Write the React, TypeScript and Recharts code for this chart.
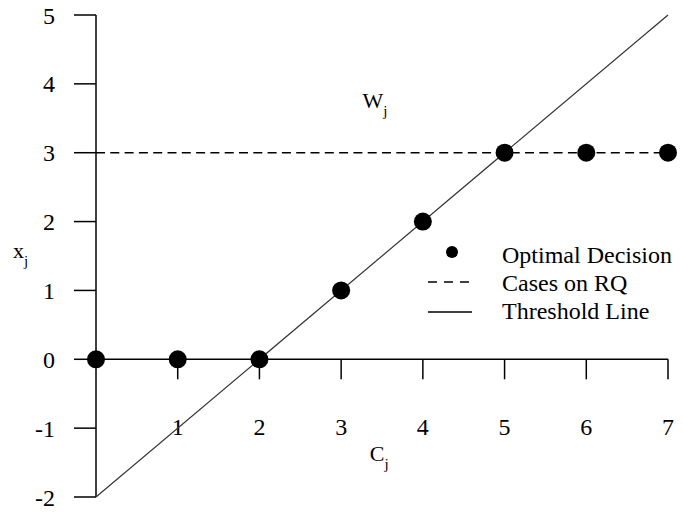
import React from 'react';
import {
  ComposedChart,
  XAxis,
  YAxis,
  Scatter,
  ReferenceLine,
  ReferenceDot,
  Label,
} from 'recharts';

// ---- data ----
const decisionX = [0, 1, 2, 3, 4, 5, 6, 7];
const decisionY = [0, 0, 0, 1, 2, 3, 3, 3];
const casesX = [0, 7];
const casesY = [3, 3];
const thresholdX = [0, 7];
const thresholdY = [-2, 5];
const yTicks = [-2, -1, 0, 1, 2, 3, 4, 5];
const xTicks = [1, 2, 3, 4, 5, 6, 7];
const xTickLabels = ['1', '2', '3', '4', '5', '6', '7'];
const legendLabels = ['Optimal Decision', 'Cases on RQ', 'Threshold Line'];
const annotations = [
  { x: 3.26, y: 3.645, main: 'W', sub: 'j' },
  { x: 3.35, y: -1.47, main: 'C', sub: 'j' },
];

const decisionData = decisionX.map((x, i) => ({ x, y: decisionY[i] }));
const casesData = casesX.map((x, i) => ({ x, y: casesY[i] }));
const thresholdData = thresholdX.map((x, i) => ({ x, y: thresholdY[i] }));

const FONT = '"Liberation Serif", "Times New Roman", serif';

const LegendBox = () => (
  <svg width={263} height={92} style={{ display: 'block' }}>
    <circle cx={32} cy={14} r={6} fill="#000" />
    <text x={82} y={25} fontFamily={FONT} fontSize={24} fill="#000">
      {legendLabels[0]}
    </text>
    <line x1={8} x2={50} y1={44} y2={44} stroke="#000" strokeWidth={1.5} strokeDasharray="9 7" />
    <text x={82} y={53} fontFamily={FONT} fontSize={24} fill="#000">
      {legendLabels[1]}
    </text>
    <line x1={8} x2={52} y1={74} y2={74} stroke="#000" strokeWidth={1.5} />
    <text x={82} y={81} fontFamily={FONT} fontSize={24} fill="#000">
      {legendLabels[2]}
    </text>
  </svg>
);

export default function App() {
  return (
    <div style={{ position: 'absolute', left: 0, top: 0, width: 683, height: 512, background: '#fff' }}>
      <ComposedChart
        width={683}
        height={512}
        margin={{ top: 15, right: 15, bottom: 15, left: 0 }}
      >
        <XAxis type="number" dataKey="x" domain={[0, 7]} hide />
        <YAxis
          type="number"
          dataKey="y"
          domain={[-2, 5]}
          ticks={yTicks}
          interval={0}
          width={96}
          tickSize={22}
          tickMargin={19}
          axisLine={{ stroke: '#000', strokeWidth: 1.5 }}
          tickLine={{ stroke: '#000', strokeWidth: 1.5 }}
          tick={{ fontSize: 24, fontFamily: FONT, fill: '#000' }}
        >
          <Label
            position="insideLeft"
            content={(props: any) => {
              const vb = props.viewBox || { x: 0, y: 15, width: 96, height: 482 };
              return (
                <text
                  x={vb.x + 13}
                  y={vb.y + vb.height / 2 + 2}
                  fontFamily={FONT}
                  fontSize={22}
                  fill="#000"
                >
                  <tspan>x</tspan>
                  <tspan dy={8} fontSize={15}>j</tspan>
                </text>
              );
            }}
          />
        </YAxis>
        <ReferenceLine y={0} stroke="#000" strokeWidth={1.5} />
        {xTicks.map((t, i) => (
          <ReferenceDot
            key={'xt' + t}
            x={t}
            y={0}
            shape={(p: any) => (
              <g>
                <line x1={p.cx} x2={p.cx} y1={p.cy} y2={p.cy + 20} stroke="#000" strokeWidth={1.5} />
                <text
                  x={p.cx}
                  y={p.cy + 76}
                  textAnchor="middle"
                  fontFamily={FONT}
                  fontSize={24}
                  fill="#000"
                >
                  {xTickLabels[i]}
                </text>
              </g>
            )}
          />
        ))}
        <Scatter
          name="Threshold Line"
          data={thresholdData}
          isAnimationActive={false}
          line={{ stroke: '#333', strokeWidth: 1.2 }}
          shape={() => <g />}
          legendType="line"
        />
        <Scatter
          name="Cases on RQ"
          data={casesData}
          isAnimationActive={false}
          line={{ stroke: '#000', strokeWidth: 1.5, strokeDasharray: '9 5.3' }}
          shape={() => <g />}
          legendType="line"
        />
        <Scatter
          name="Optimal Decision"
          data={decisionData}
          isAnimationActive={false}
          fill="#000"
          shape={(p: any) => <circle cx={p.cx} cy={p.cy} r={9} fill="#000" />}
        />
        {annotations.map((a) => (
          <ReferenceDot
            key={a.main}
            x={a.x}
            y={a.y}
            shape={(p: any) => (
              <text x={p.cx} y={p.cy} fontFamily={FONT} fontSize={22} fill="#000">
                <tspan>{a.main}</tspan>
                <tspan dy={8} fontSize={15}>{a.sub}</tspan>
              </text>
            )}
          />
        ))}
      </ComposedChart>
      <div style={{ position: 'absolute', left: 420, top: 238 }}>
        <LegendBox />
      </div>
    </div>
  );
}
